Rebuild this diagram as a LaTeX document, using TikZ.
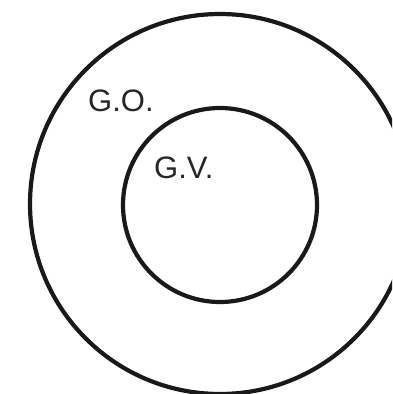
\documentclass[tikz,border=0pt]{standalone}
\usepackage{fontspec}
\setmainfont{Liberation Sans}
\begin{document}
\begin{tikzpicture}[x=1pt,y=-1pt,
  ring/.style={draw=black!90,line width=4.2pt},
  lab/.style={font=\fontsize{31}{36}\selectfont,inner sep=0pt,anchor=base west,text=black!85}]
\useasboundingbox (0,0) rectangle (392,394);
\clip (0,0) rectangle (392,394);
\node[ring,circle,minimum size=380pt,inner sep=0pt] (outer) at (220,204) {};
\node[ring,circle,minimum size=194pt,inner sep=0pt] (inner) at (220,205) {};
\node[lab] (go) at (88,111) {G.O.};
\node[lab] (gv) at (154,178) {G.V.};
\end{tikzpicture}
\end{document}
